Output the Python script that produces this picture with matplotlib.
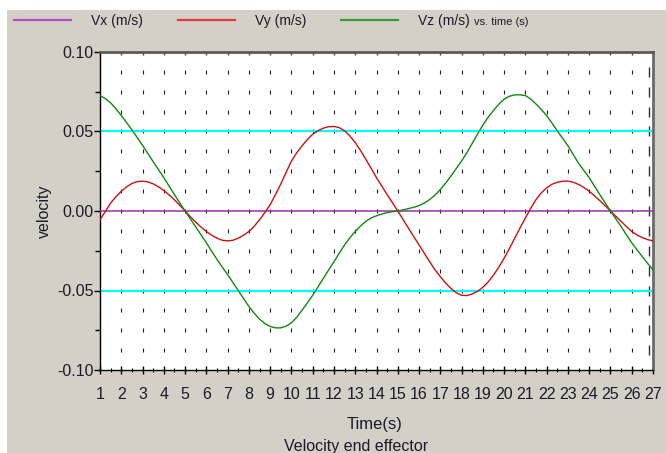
import matplotlib
matplotlib.use('Agg')
import numpy as np
import matplotlib.pyplot as plt
from matplotlib.patches import Rectangle
from matplotlib.lines import Line2D
from matplotlib.ticker import MultipleLocator, FixedLocator, FormatStrFormatter
import matplotlib.transforms as mtransforms

# ---------------- data ----------------
time_s = [1.00, 1.25, 1.50, 1.75, 2.00, 2.25, 2.50, 2.75, 3.00, 3.25, 3.50, 3.75,
          4.00, 4.25, 4.50, 4.75, 5.00, 5.25, 5.50, 5.75, 6.00, 6.25, 6.50, 6.75,
          7.00, 7.25, 7.50, 7.75, 8.00, 8.25, 8.50, 8.75, 9.00, 9.25, 9.50, 9.75,
          10.00, 10.25, 10.50, 10.75, 11.00, 11.25, 11.50, 11.75, 12.00, 12.25,
          12.50, 12.75, 13.00, 13.25, 13.50, 13.75, 14.00, 14.25, 14.50, 14.75,
          15.00, 15.25, 15.50, 15.75, 16.00, 16.25, 16.50, 16.75, 17.00, 17.25,
          17.50, 17.75, 18.00, 18.25, 18.50, 18.75, 19.00, 19.25, 19.50, 19.75,
          20.00, 20.25, 20.50, 20.75, 21.00, 21.25, 21.50, 21.75, 22.00, 22.25,
          22.50, 22.75, 23.00, 23.25, 23.50, 23.75, 24.00, 24.25, 24.50, 24.75,
          25.00, 25.25, 25.50, 25.75, 26.00, 26.25, 26.50, 26.75, 27.00]

vx = [0.0] * len(time_s)

vy = [-0.0055, -0.0003, 0.0050, 0.0090, 0.0124, 0.0152, 0.0173, 0.0185,
      0.0188, 0.0183, 0.0171, 0.0152, 0.0129, 0.0101, 0.0070, 0.0036,
      0.0000, -0.0036, -0.0070, -0.0101, -0.0129, -0.0152, -0.0171, -0.0184,
      -0.0188, -0.0184, -0.0171, -0.0152, -0.0129, -0.0096, -0.0055, -0.0010,
      0.0040, 0.0103, 0.0170, 0.0243, 0.0314, 0.0366, 0.0410, 0.0450,
      0.0483, 0.0505, 0.0521, 0.0530, 0.0532, 0.0524, 0.0504, 0.0472,
      0.0430, 0.0380, 0.0325, 0.0268, 0.0209, 0.0156, 0.0103, 0.0052,
      0.0000, -0.0054, -0.0108, -0.0161, -0.0213, -0.0266, -0.0319, -0.0370,
      -0.0413, -0.0453, -0.0487, -0.0514, -0.0530, -0.0532, -0.0522, -0.0505,
      -0.0480, -0.0446, -0.0403, -0.0353, -0.0297, -0.0236, -0.0171, -0.0106,
      -0.0044, 0.0017, 0.0072, 0.0114, 0.0146, 0.0168, 0.0181, 0.0187,
      0.0188, 0.0181, 0.0167, 0.0148, 0.0124, 0.0096, 0.0065, 0.0033,
      0.0000, -0.0033, -0.0065, -0.0098, -0.0129, -0.0151, -0.0167, -0.0180,
      -0.0188]

vz = [0.0726, 0.0707, 0.0680, 0.0643, 0.0600, 0.0556, 0.0510, 0.0462,
      0.0413, 0.0362, 0.0310, 0.0260, 0.0210, 0.0156, 0.0103, 0.0051,
      0.0000, -0.0050, -0.0100, -0.0150, -0.0200, -0.0253, -0.0305, -0.0353,
      -0.0400, -0.0450, -0.0500, -0.0551, -0.0600, -0.0643, -0.0680, -0.0708,
      -0.0726, -0.0735, -0.0735, -0.0724, -0.0703, -0.0668, -0.0624, -0.0578,
      -0.0530, -0.0477, -0.0424, -0.0371, -0.0319, -0.0265, -0.0213, -0.0168,
      -0.0129, -0.0094, -0.0065, -0.0044, -0.0030, -0.0019, -0.0010, -0.0004,
      0.0000, 0.0007, 0.0015, 0.0023, 0.0034, 0.0050, 0.0072, 0.0100,
      0.0135, 0.0175, 0.0220, 0.0267, 0.0314, 0.0367, 0.0425, 0.0484,
      0.0540, 0.0590, 0.0632, 0.0672, 0.0703, 0.0722, 0.0730, 0.0731,
      0.0726, 0.0704, 0.0673, 0.0638, 0.0600, 0.0553, 0.0504, 0.0457,
      0.0410, 0.0355, 0.0300, 0.0255, 0.0210, 0.0156, 0.0103, 0.0051,
      0.0000, -0.0049, -0.0097, -0.0150, -0.0200, -0.0244, -0.0287, -0.0330,
      -0.0370]

series_labels = ['Vx (m/s)', 'Vy (m/s)', 'Vz (m/s)']
series_colors = ['#9a2fa8', '#cc1010', '#118811']
legend_colors = ['#b050c8', '#e03a3a', '#3a9a3a']
x_ticks = list(range(1, 28))
y_ticks = [-0.10, -0.05, 0.00, 0.05, 0.10]
limit_lines = [0.05, -0.05]
legend_suffix = 'vs. time (s)'
x_label = 'Time(s)'
y_label = 'velocity'
caption = 'Velocity end effector'

# ---------------- styling ----------------
plt.rcParams['font.family'] = ['Liberation Sans', 'DejaVu Sans']

W, H = 666, 453
fig = plt.figure(figsize=(W / 100, H / 100), dpi=100, facecolor='white')
fig.patches.append(Rectangle((7 / W, 0), 1 - 7 / W, 1 - 10 / H,
                             transform=fig.transFigure, facecolor='#d4d0c8',
                             edgecolor='none', zorder=-10))

ax = fig.add_axes([100 / W, (H - 370) / H, 553 / W, 318 / H])
ax.set_facecolor('white')
ax.set_xlim(x_ticks[0], x_ticks[-1])
ax.set_ylim(y_ticks[0], y_ticks[-1])

# dotted grid
dot_x = x_ticks[1:-1]
dot_y = np.arange(-7, 8) * 0.0125
gx, gy = np.meshgrid(dot_x, dot_y)
ax.plot(gx.ravel(), gy.ravel(), linestyle='none', marker='|', markersize=2.2,
        markeredgewidth=0.8, color='#202020', zorder=1)
shift = ax.transData + mtransforms.ScaledTranslation(-4 / 100, 0, fig.dpi_scale_trans)
ax.plot([x_ticks[-1]] * len(dot_y), dot_y, linestyle='none', marker='|',
        markersize=7, markeredgewidth=1.0, color='#303030', zorder=1,
        transform=shift)

for yl in limit_lines:
    ax.axhline(yl, color='#00ffff', lw=1.6, zorder=2)

lx, = ax.plot(time_s, vx, color=series_colors[0], lw=1.1, zorder=3)
ly, = ax.plot(time_s, vy, color=series_colors[1], lw=1.0, zorder=4)
lz, = ax.plot(time_s, vz, color=series_colors[2], lw=1.0, zorder=5)

# spines
ax.spines['left'].set_color('black')
ax.spines['left'].set_linewidth(1.0)
ax.spines['bottom'].set_color('black')
ax.spines['bottom'].set_linewidth(1.0)
ax.spines['top'].set_color('#5a5a5a')
ax.spines['top'].set_linewidth(2.0)
ax.spines['right'].set_color('#6a6a6a')
ax.spines['right'].set_linewidth(2.0)

# x ticks
ax.xaxis.set_major_locator(FixedLocator(x_ticks))
ax.xaxis.set_minor_locator(MultipleLocator(0.5))
ax.tick_params(axis='x', which='major', direction='inout', length=6, width=1,
               colors='black', labelsize=11.5, pad=9)
ax.tick_params(axis='x', which='minor', direction='inout', length=3.5, width=0.8,
               colors='black')
ax.tick_params(axis='x', top=False, which='both')
for lab in ax.get_xticklabels():
    lab.set_color('#1a1a2a')

# y ticks
ax.yaxis.set_major_locator(FixedLocator(y_ticks))
ax.yaxis.set_minor_locator(MultipleLocator(0.025))
ax.yaxis.set_major_formatter(FormatStrFormatter('%.2f'))
ax.tick_params(axis='y', which='major', direction='out', length=4, width=1,
               labelsize=11.5, pad=0.5, colors='black')
ax.tick_params(axis='y', which='minor', direction='out', length=3.5, width=1)
for lab in ax.get_yticklabels():
    lab.set_color('#1a1a2a')

# top ticks (inward, gray)
sec = ax.secondary_xaxis('top')
sec.xaxis.set_major_locator(FixedLocator(x_ticks))
sec.tick_params(direction='in', length=2.5, width=1, colors='#404040', labeltop=False)
sec.spines['top'].set_visible(False)

ax.set_ylabel(y_label, fontsize=11.5, va='center', color='#1a1a2a')
ax.yaxis.set_label_coords((44 - 100) / 553, 0.5)
ax.set_xlabel(x_label, fontsize=12, va='center', color='#1a1a2a')
ax.xaxis.set_label_coords((375 - 100) / 553, (370 - 424) / 318)

fig.text(356 / W, 1 - 439 / H, caption, fontsize=11.5, ha='center', va='top',
         color='#1a1a2a')

# legend strip across the top
leg_handles = [Line2D([], [], color=c, lw=1.6) for c in legend_colors]
leg = fig.legend(handles=leg_handles, labels=series_labels, loc='center left',
                 bbox_to_anchor=(14 / W, 1 - 21 / H), ncol=3, frameon=False,
                 handlelength=4.1, handletextpad=1.45, columnspacing=2.5,
                 borderpad=0, borderaxespad=0, fontsize=10)
for t in leg.get_texts():
    t.set_color('#1a1a2a')
fig.text(474 / W, 1 - 22 / H, legend_suffix, fontsize=8, va='center',
         color='#1a1a2a')

fig.savefig('out.png', dpi=100, facecolor=fig.get_facecolor())
